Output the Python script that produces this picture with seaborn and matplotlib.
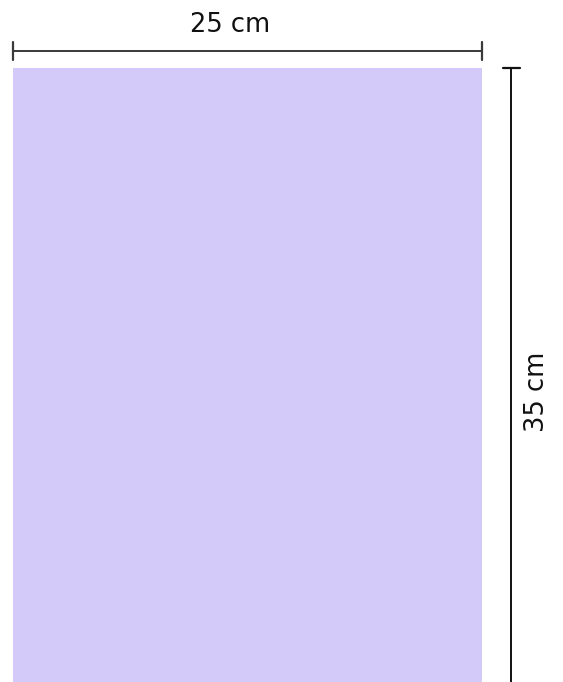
import matplotlib
matplotlib.use("Agg")
import matplotlib.pyplot as plt
import seaborn as sns

# dimensions of the sheet, in cm
width_cm = [25]
height_cm = [35]
labels = ["25 cm", "35 cm"]

sns.set_theme(style="white")
plt.rcParams['font.family'] = ['DejaVu Sans']

fig = plt.figure(figsize=(5.63, 6.82), dpi=100)
ax = fig.add_axes([0, 0, 1, 1])

# pixel scale of the reference (px per cm along each axis)
px_x = 469 / width_cm[0]
px_y = 614 / height_cm[0]
ax.set_xlim(-13 / px_x, (563 - 13) / px_x)
ax.set_ylim(0, 682 / px_y)
ax.axis("off")

ax.bar(0, height_cm[0], width=width_cm[0], align="edge", color="#D4CAF9", linewidth=0)

w, h = width_cm[0], height_cm[0]
line_col = "#3a3a3a"

# top dimension line
y_top = h + 17 / px_y
tick = 9 / px_y
ax.plot([0, w], [y_top, y_top], color=line_col, lw=1.4, solid_capstyle="butt")
ax.plot([0, 0], [y_top - tick, y_top + tick], color=line_col, lw=1.6)
ax.plot([w, w], [y_top - tick, y_top + tick], color=line_col, lw=1.6)
ax.text(w / 2 - 17 / px_x, h + 43 / px_y, labels[0], ha="center", va="center",
        fontsize=18.5, color="#111111")

# right dimension line
x_r = w + 29 / px_x
tick_x = 8.5 / px_x
ax.plot([x_r, x_r], [0, h], color="#111111", lw=1.4, solid_capstyle="butt")
ax.plot([x_r - tick_x, x_r + tick_x], [h, h], color="#111111", lw=1.6)
ax.text(x_r + 26.5 / px_x, h / 2 - 17 / px_y, labels[1], ha="center", va="center",
        rotation=90, fontsize=18.5, color="#111111")

fig.savefig("out.png", dpi=100)
